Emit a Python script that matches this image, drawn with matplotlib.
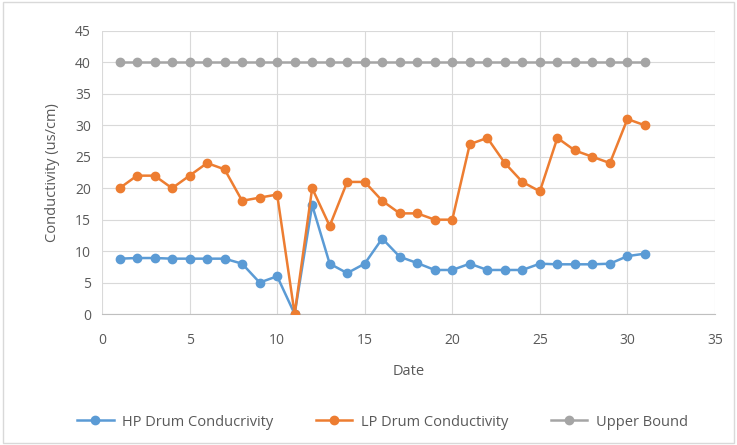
import matplotlib
matplotlib.use("Agg")
import matplotlib.pyplot as plt

dates = list(range(1, 32))
hp_drum = [8.8, 8.9, 8.9, 8.8, 8.8, 8.8, 8.8, 8.0, 5.0, 6.0, 0.0, 17.3, 8.0, 6.5, 8.0, 12.0,
           9.1, 8.1, 7.0, 7.0, 8.0, 7.0, 7.0, 7.0, 8.0, 7.9, 7.9, 7.9, 8.0, 9.2, 9.6]
lp_drum = [20, 22, 22, 20, 22, 24, 23, 18, 18.5, 19, 0, 20, 14, 21, 21, 18,
           16, 16, 15, 15, 27, 28, 24, 21, 19.5, 28, 26, 25, 24, 31, 30]
upper_bound = [40] * 31
series_names = ["HP Drum Conducrivity", "LP Drum Conductivity", "Upper Bound"]
colors = ["#5B9BD5", "#ED7D31", "#A5A5A5"]

plt.rcParams['font.family'] = ['Open Sans', 'DejaVu Sans']

fig = plt.figure(figsize=(7.37, 4.45), dpi=100)
ax = fig.add_axes([102/737, 1 - 314/445, (715-102)/737, (314-31)/445])

for vals, name, c in zip([hp_drum, lp_drum, upper_bound], series_names, colors):
    ax.plot(dates, vals, color=c, lw=1.8, marker='o', markersize=6, label=name, zorder=3)

ax.set_xlim(0, 35)
ax.set_ylim(0, 45)
ax.set_xticks(range(0, 36, 5))
ax.set_yticks(range(0, 46, 5))
ax.grid(True, color='#D9D9D9', lw=0.8, zorder=0)
for s in ['top', 'right', 'left']:
    ax.spines[s].set_visible(False)
ax.spines['bottom'].set_color('#BFBFBF')
ax.tick_params(axis='x', length=0, colors='#595959', labelsize=10, pad=14)
ax.tick_params(axis='y', length=0, colors='#595959', labelsize=10, pad=8)
ax.set_xlabel("Date", color='#595959', fontsize=10.5, labelpad=11)
ax.set_ylabel("Conductivity (us/cm)", color='#595959', fontsize=10.5, labelpad=11)

fig.legend(loc='center', bbox_to_anchor=(0.519, 1 - 422/445), ncol=3, frameon=False,
           fontsize=10.5, labelcolor='#595959', columnspacing=2.9, handlelength=2.5,
           handletextpad=0.6)

border = plt.Rectangle((0.004, 0.004), 0.992, 0.992, transform=fig.transFigure,
                       fill=False, edgecolor='#D9D9D9', lw=1)
fig.patches.append(border)

fig.savefig("out.png", dpi=100)
